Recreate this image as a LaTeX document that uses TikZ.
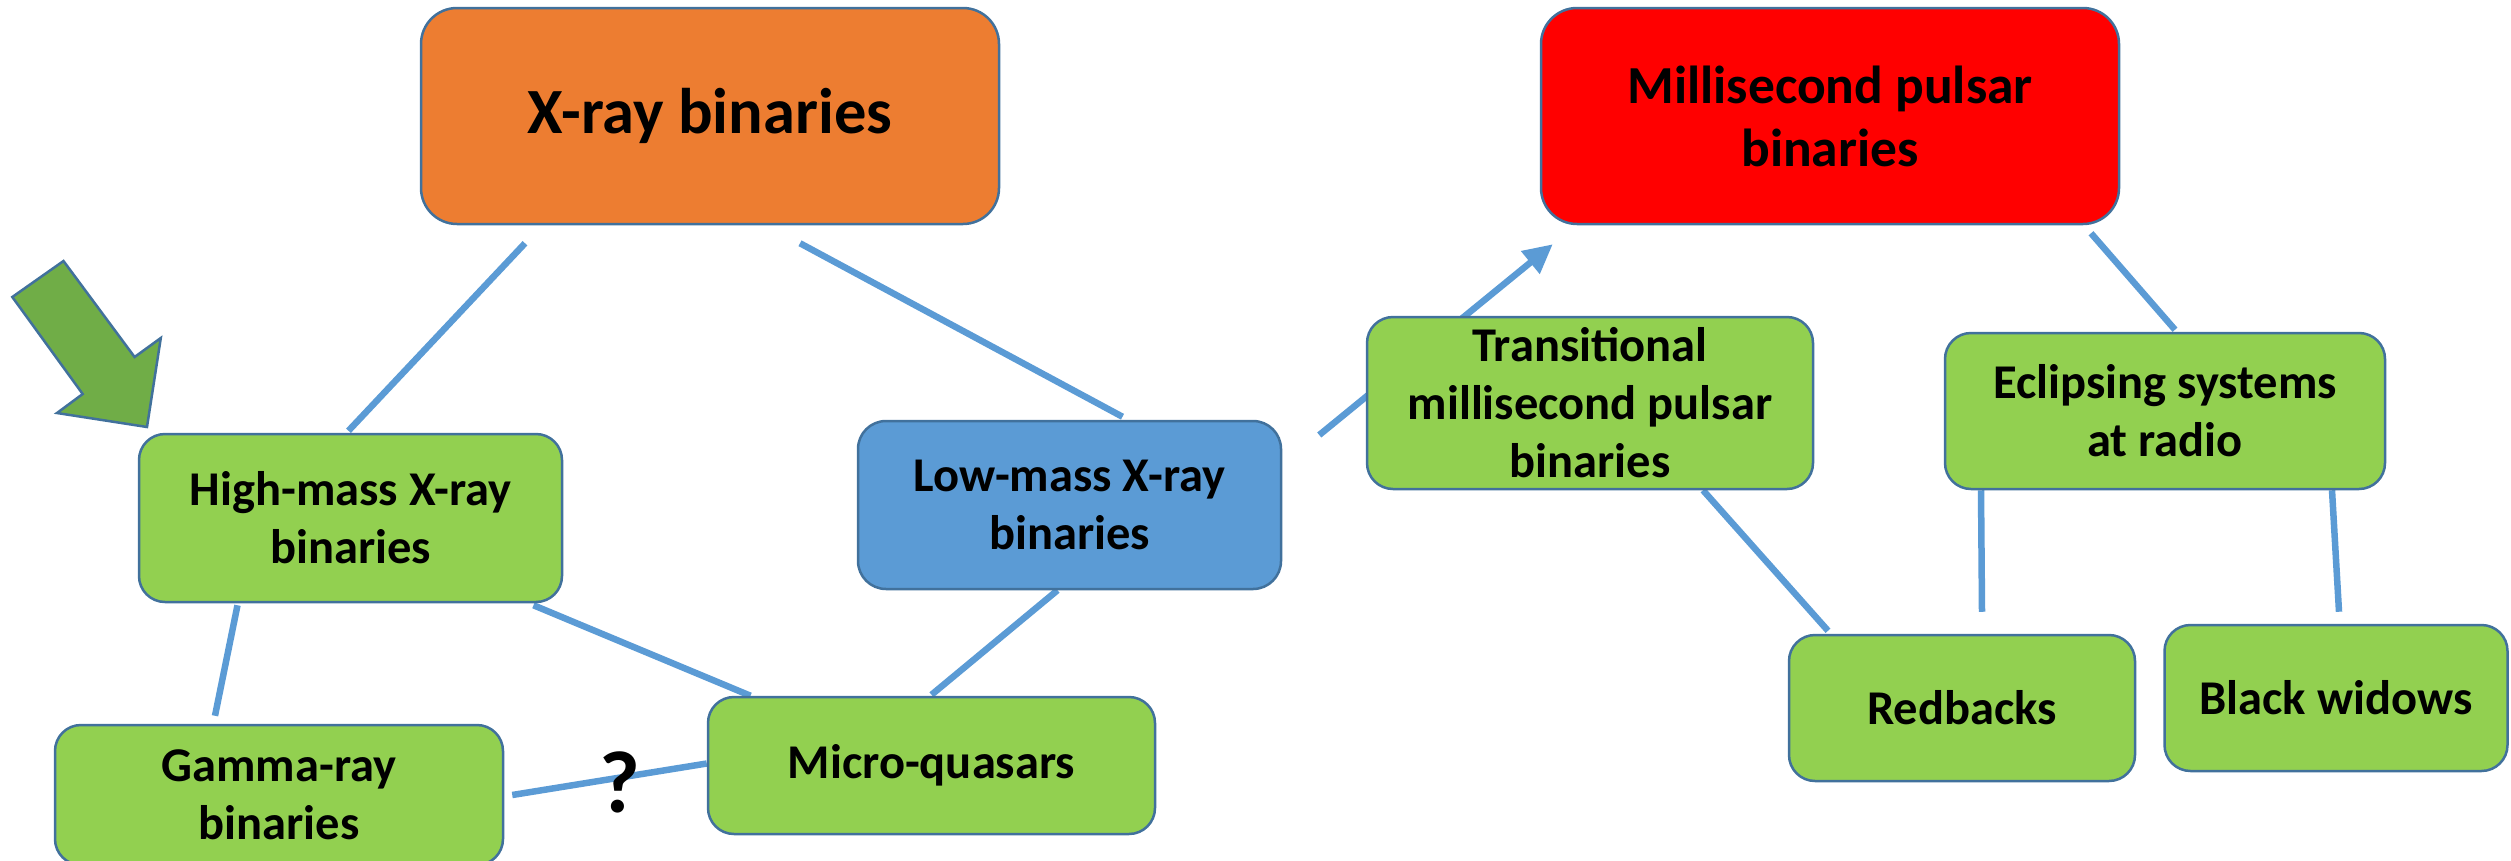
\documentclass[tikz,border=0pt]{standalone}
\usepackage{fontspec}
\setmainfont{Carlito}
\usetikzlibrary{arrows.meta,calc}
\pgfdeclarelayer{background}
\pgfsetlayers{background,main}
\definecolor{boxgreen}{HTML}{92D050}
\definecolor{boxorange}{HTML}{ED7D31}
\definecolor{boxred}{HTML}{FF0000}
\definecolor{boxblue}{HTML}{5B9BD5}
\definecolor{boxborder}{HTML}{41719C}
\definecolor{linkblue}{HTML}{5B9BD5}
\definecolor{arrowgreen}{HTML}{70AD47}
\tikzset{
  box/.style={draw=boxborder, line width=2.5pt, rectangle, align=center,
    font=\bfseries\fontsize{48.5}{58}\selectfont, inner sep=0pt, text=black},
  greenbox/.style={box, fill=boxgreen, rounded corners=26pt},
  bigbox/.style={box, rounded corners=36pt, minimum width=578pt, minimum height=216pt},
  link/.style={draw=linkblue, line width=6.5pt},
  bigarrow/.style={fill=arrowgreen, draw=boxborder, line width=2.5pt, line join=miter},
}
\begin{document}
\begin{tikzpicture}[x=1pt,y=-1pt]
\useasboundingbox (0,0) rectangle (2511,860);
\clip (0,0) rectangle (2511,860);

% top-level boxes
\node[bigbox, fill=boxorange, font=\bfseries\fontsize{64.5}{75}\selectfont] (xrb) at (710,116) {X-ray binaries};
\node[bigbox, fill=boxred, font=\bfseries\fontsize{53.5}{63}\selectfont] (msp) at (1830,116) {Millisecond pulsar\\binaries};

% second level
\node[greenbox, minimum width=423pt, minimum height=168pt] (hmxb) at (350.5,518) {High-mass X-ray\\binaries};
\node[box, fill=boxblue, rounded corners=28pt, minimum width=423pt, minimum height=168pt] (lmxb) at (1069.5,505) {Low-mass X-ray\\binaries};
\node[greenbox, minimum width=446pt, minimum height=172pt] (trans) at (1590,403) {Transitional\\millisecond pulsar\\binaries};
\node[greenbox, minimum width=440pt, minimum height=156pt] (ecl) at (2165,411) {Eclipsing systems\\at radio};

% third level
\node[greenbox, minimum width=448pt, minimum height=140pt] (gamma) at (279,795) {Gamma-ray\\binaries};
\node[greenbox, minimum width=447pt, minimum height=137pt] (micro) at (931.5,765.5) {Micro-quasars};
\node[greenbox, minimum width=346pt, minimum height=146pt] (red) at (1962,708) {Redbacks};
\node[greenbox, minimum width=343pt, minimum height=146pt] (bw) at (2336,698) {Black widows};

% connectors
\begin{pgfonlayer}{background}
\draw[link] ([shift={(-185,18)}]xrb.south) -- ([shift={(-2,-2)}]hmxb.north);
\draw[link] ([shift={(90,18)}]xrb.south) -- ([shift={(53,-3)}]lmxb.north);
\draw[link] ([shift={(-113,2)}]hmxb.south) -- ([shift={(-64,-8)}]gamma.north);
\draw[link] ([shift={(183,2)}]hmxb.south) -- ([shift={(-181,0)}]micro.north);
\draw[link] ([shift={(-12,0)}]lmxb.south) -- ([shift={(0,-1)}]micro.north);
\draw[link] ([shift={(8,0)}]gamma.east) -- ([shift={(0,-2)}]micro.west);
\draw[link, -{Triangle[length=29pt,width=28pt]}] ([shift={(37,-70)}]lmxb.east) -- ([shift={(13,19)}]msp.south west);
\draw[link] ([shift={(261,8)}]msp.south) -- ([shift={(10,-2)}]ecl.north);
\draw[link] ([shift={(113,0)}]trans.south) -- ([shift={(-134,-3)}]red.north);
\draw[link] ([shift={(-184,0)}]ecl.south) -- ([shift={(20,-22)}]red.north);
\draw[link] ([shift={(167,0)}]ecl.south) -- ([shift={(3,-12)}]bw.north);
\end{pgfonlayer}

% question mark on the gamma--micro link
\node[font=\bfseries\fontsize{88}{100}\selectfont, inner sep=0pt] (q) at (620,782) {?};

% big green pointer arrow
\draw[bigarrow] (12.3,297) -- (63.5,261) -- (134.6,357) -- (160.8,338) -- (147,427) -- (57,413) -- (82.7,394) -- cycle;
\end{tikzpicture}
\end{document}
